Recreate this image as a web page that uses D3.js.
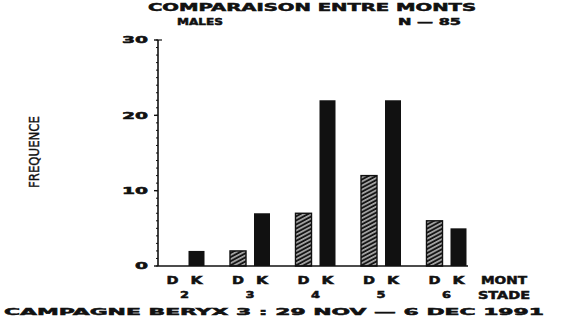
<!DOCTYPE html>
<html>
<head>
<meta charset="utf-8">
<script src="https://cdn.jsdelivr.net/npm/d3@7"></script>
<style>
  html, body { margin: 0; padding: 0; background: #fff; }
  svg { display: block; }
  text { font-family: "DejaVu Sans", "Liberation Sans", sans-serif; font-weight: bold; fill: #111; stroke: #111; stroke-width: 0.5; }
</style>
</head>
<body>
<svg id="chart" width="566" height="324"></svg>
<script>
// Stades (groups) and the two mounts compared in each
const stades = ["2", "3", "4", "5", "6"];
const monts = ["D", "K"];
// Frequencies per stade, one array per mount
const valuesD = [0, 2, 7, 12, 6];
const valuesK = [2, 7, 22, 22, 5];
// Y axis ticks
const yTicks = [0, 10, 20, 30];

const title = "COMPARAISON ENTRE MONTS";
const subLeft = "MALES";
const subRight = "N — 85";
const footer = "CAMPAGNE BERYX 3 : 29 NOV — 6 DEC 1991";

const svg = d3.select("#chart");

const ink = "#111";

// Slanted white stripes on a dark ground for the D bars
const defs = svg.append("defs");
const pat = defs.append("pattern")
  .attr("id", "hatch")
  .attr("patternUnits", "userSpaceOnUse")
  .attr("width", 20).attr("height", 3.6)
  .attr("patternTransform", "rotate(-28)");
pat.append("rect").attr("width", 20).attr("height", 3.6).attr("fill", "#161616");
pat.append("rect").attr("y", 1.2).attr("width", 20).attr("height", 1.1).attr("fill", "#f4f4f4");

const x = d3.scaleBand().domain(stades).range([158, 485.5]).paddingInner(0).paddingOuter(0);
const xm = d3.scaleBand().domain(monts).range([6.5, 46.5]).paddingInner(1 / 3).paddingOuter(0);
const y = d3.scaleLinear().domain([0, 30]).range([266, 40]);

const rows = stades.map((s, i) => ({ stade: s, D: valuesD[i], K: valuesK[i] }));

// Bars
const g = svg.append("g");
const groups = g.selectAll("g.stade").data(rows).join("g")
  .attr("class", "stade")
  .attr("transform", d => `translate(${x(d.stade)},0)`);

groups.selectAll("rect").data(d => monts.map(m => ({ m, v: d[m] })).filter(e => e.v > 0)).join("rect")
  .attr("x", e => xm(e.m))
  .attr("width", xm.bandwidth())
  .attr("y", e => y(e.v))
  .attr("height", e => y(0) - y(e.v))
  .attr("fill", e => e.m === "D" ? "url(#hatch)" : ink)
  .attr("stroke", e => e.m === "D" ? ink : "none")
  .attr("stroke-width", 1.4);

// Y axis with major and minor ticks
const yAxis = svg.append("g").attr("transform", "translate(158,0)");
yAxis.append("line").attr("x1", 0).attr("x2", 0).attr("y1", y(30)).attr("y2", y(0))
  .attr("stroke", ink).attr("stroke-width", 1.6);
yAxis.append("line").attr("x1", 0).attr("x2", 4).attr("y1", y(30)).attr("y2", y(30))
  .attr("stroke", ink).attr("stroke-width", 1.2);
yAxis.selectAll("line.minor").data(d3.range(0, 31)).join("line")
  .attr("class", "minor")
  .attr("x1", -2).attr("x2", 0)
  .attr("y1", d => y(d)).attr("y2", d => y(d))
  .attr("stroke", ink).attr("stroke-width", 1);
yAxis.selectAll("line.major").data(yTicks).join("line")
  .attr("class", "major")
  .attr("x1", -4).attr("x2", 0)
  .attr("y1", d => y(d)).attr("y2", d => y(d))
  .attr("stroke", ink).attr("stroke-width", 1.4);
yAxis.selectAll("text").data(yTicks).join("text")
  .attr("x", -10)
  .attr("y", d => y(d))
  .attr("dy", "0.36em")
  .attr("text-anchor", "end")
  .attr("font-size", 9)
  .attr("textLength", d => String(d).length * 13)
  .attr("lengthAdjust", "spacingAndGlyphs")
  .text(d => d);

// Baseline
svg.append("line")
  .attr("x1", 158).attr("x2", 468)
  .attr("y1", y(0)).attr("y2", y(0))
  .attr("stroke", ink).attr("stroke-width", 1.6);

// D / K labels and stade numbers under each group
groups.selectAll("text.mont").data(monts).join("text")
  .attr("class", "mont")
  .attr("x", m => xm(m) + xm.bandwidth() / 2)
  .attr("y", 280)
  .attr("dy", "0.36em")
  .attr("text-anchor", "middle")
  .attr("font-size", 10)
  .attr("textLength", 12)
  .attr("lengthAdjust", "spacingAndGlyphs")
  .text(m => m);
groups.append("text")
  .attr("x", (xm("D") + xm("K") + xm.bandwidth()) / 2)
  .attr("y", 295)
  .attr("dy", "0.36em")
  .attr("text-anchor", "middle")
  .attr("font-size", 9)
  .attr("textLength", 9)
  .attr("lengthAdjust", "spacingAndGlyphs")
  .text(d => d.stade);

function label(txt, x0, width, yc, size) {
  svg.append("text")
    .attr("x", x0).attr("y", yc).attr("dy", "0.36em")
    .attr("font-size", size)
    .attr("textLength", width)
    .attr("lengthAdjust", "spacingAndGlyphs")
    .text(txt);
}

label("MONT", 481, 46, 280, 10);
label("STADE", 478, 52, 295, 10);
label(title, 148, 328, 7, 10);
label(subLeft, 177, 46, 22, 9);
label(subRight, 398, 63, 22, 9);
label(footer, 4, 540, 312, 9.5);

// Vertical axis title
svg.append("text")
  .attr("transform", "translate(34,152) rotate(-90)")
  .attr("text-anchor", "middle")
  .attr("dy", "0.36em")
  .attr("font-size", 14)
  .attr("textLength", 72)
  .attr("lengthAdjust", "spacingAndGlyphs")
  .attr("font-family", "'Liberation Sans Narrow', 'Liberation Sans', sans-serif")
  .style("font-weight", "normal")
  .style("stroke-width", 0.4)
  .text("FREQUENCE");
</script>
</body>
</html>
